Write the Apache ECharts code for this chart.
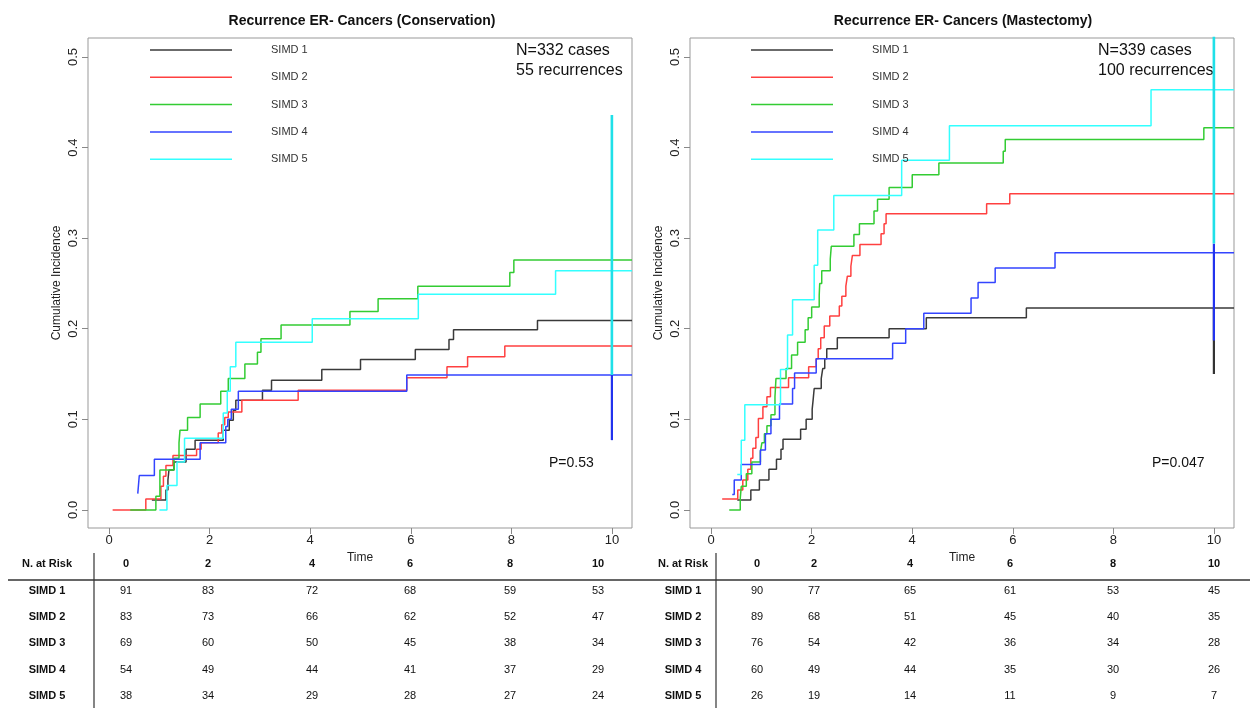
<!DOCTYPE html>
<html>
<head>
<meta charset="utf-8">
<title>Recurrence ER- Cancers</title>
<script src="https://cdn.jsdelivr.net/npm/echarts@6/dist/echarts.min.js"></script>
<style>
  html, body { margin: 0; padding: 0; background: #fff; }
  #chart { width: 1250px; height: 708px; }
</style>
</head>
<body>
<div id="chart"></div>
<script>
// step points [time, cumulative incidence] - Conservation
const cons1 = [[0.85,0.011],[1.13,0.022],[1.17,0.033],[1.19,0.044],[1.29,0.053],[1.53,0.067],[1.71,0.077],[2.27,0.088],[2.39,0.099],[2.47,0.11],[2.52,0.121],[3.05,0.132],[3.23,0.143],[4.23,0.155],[5.0,0.166],[6.09,0.177],[6.76,0.188],[6.85,0.199],[8.52,0.209],[10.4,0.209]]
const cons2 = [[0.07,0],[0.73,0.012],[1.03,0.026],[1.08,0.037],[1.13,0.049],[1.27,0.06],[1.74,0.067],[1.83,0.074],[2.17,0.085],[2.24,0.094],[2.3,0.102],[2.37,0.108],[2.64,0.121],[3.76,0.132],[5.92,0.146],[6.72,0.158],[7.13,0.169],[7.87,0.181],[10.4,0.181]]
const cons3 = [[0.42,0],[0.93,0.015],[1.01,0.044],[1.29,0.057],[1.39,0.074],[1.41,0.088],[1.56,0.102],[1.81,0.117],[2.22,0.131],[2.37,0.145],[2.7,0.161],[2.95,0.174],[3.02,0.189],[3.42,0.204],[4.79,0.219],[5.35,0.233],[6.14,0.247],[7.97,0.262],[8.05,0.276],[10.4,0.276]]
const cons4 = [[0.57,0.018],[0.6,0.038],[0.9,0.056],[1.81,0.074],[2.32,0.092],[2.36,0.1],[2.43,0.111],[2.57,0.131],[5.92,0.149],[10.4,0.149]]
const cons5 = [[1.0,0],[1.15,0.027],[1.35,0.053],[1.5,0.079],[2.27,0.107],[2.35,0.131],[2.41,0.158],[2.52,0.185],[4.04,0.211],[6.15,0.238],[8.88,0.264],[10.4,0.264]]

// step points - Mastectomy
const mast1 = [[0.52,0.011],[0.79,0.022],[0.96,0.033],[1.15,0.045],[1.3,0.056],[1.39,0.067],[1.43,0.078],[1.78,0.089],[1.89,0.1],[2.01,0.111],[2.03,0.122],[2.05,0.134],[2.19,0.145],[2.22,0.156],[2.26,0.167],[2.3,0.178],[2.51,0.19],[3.54,0.2],[4.28,0.212],[6.27,0.223],[10.4,0.223]]
const mast2 = [[0.22,0.012],[0.53,0.022],[0.63,0.033],[0.73,0.045],[0.79,0.057],[0.83,0.068],[0.89,0.08],[0.94,0.101],[1.03,0.114],[1.11,0.125],[1.18,0.135],[1.54,0.146],[1.94,0.158],[2.09,0.167],[2.13,0.178],[2.18,0.19],[2.25,0.203],[2.36,0.214],[2.55,0.225],[2.6,0.236],[2.68,0.247],[2.71,0.258],[2.78,0.269],[2.81,0.281],[2.96,0.293],[3.38,0.305],[3.44,0.316],[3.48,0.327],[5.48,0.338],[5.94,0.349],[10.4,0.349]]
const mast3 = [[0.36,0],[0.58,0.013],[0.6,0.026],[0.7,0.04],[0.81,0.053],[0.98,0.064],[1.01,0.074],[1.06,0.084],[1.11,0.093],[1.19,0.105],[1.27,0.125],[1.29,0.145],[1.49,0.156],[1.6,0.171],[1.72,0.185],[1.87,0.199],[1.93,0.212],[2.0,0.224],[2.15,0.237],[2.16,0.25],[2.2,0.264],[2.37,0.277],[2.39,0.291],[2.84,0.304],[2.95,0.316],[3.24,0.33],[3.31,0.343],[3.54,0.356],[4.0,0.37],[4.53,0.383],[5.81,0.396],[5.85,0.409],[9.8,0.422],[10.4,0.422]]
const mast4 = [[0.42,0.017],[0.46,0.033],[0.6,0.05],[0.98,0.066],[1.08,0.084],[1.19,0.1],[1.36,0.117],[1.62,0.134],[1.66,0.151],[2.09,0.167],[3.61,0.184],[3.87,0.2],[4.23,0.217],[5.17,0.234],[5.31,0.251],[5.65,0.267],[6.84,0.284],[10.4,0.284]]
const mast5 = [[0.52,0.039],[0.6,0.077],[0.67,0.116],[1.38,0.155],[1.52,0.193],[1.62,0.232],[2.05,0.27],[2.12,0.309],[2.44,0.347],[3.79,0.386],[4.74,0.424],[8.75,0.464],[10.4,0.464]]

// vertical bars at time 10: [group index, low, high]
const consBars = [[3, 0.077, 0.149], [4, 0.149, 0.436]]
const mastBars = [[0, 0.15, 0.223], [3, 0.187, 0.294], [4, 0.294, 0.6]]
const barTime = 10

// numbers at risk
const riskTimes = ['0', '2', '4', '6', '8', '10']
const consRisk = [[91,83,72,68,59,53],[83,73,66,62,52,47],[69,60,50,45,38,34],[54,49,44,41,37,29],[38,34,29,28,27,24]]
const mastRisk = [[90,77,65,61,53,45],[89,68,51,45,40,35],[76,54,42,36,34,28],[60,49,44,35,30,26],[26,19,14,11,9,7]]

const groups = ['SIMD 1', 'SIMD 2', 'SIMD 3', 'SIMD 4', 'SIMD 5']
const timeTicks = [0, 2, 4, 6, 8, 10]
const incTicks = [0, 0.1, 0.2, 0.3, 0.4, 0.5]

const FONT = '"Liberation Sans", Arial, sans-serif'
const colors = ['#3a3a3a', '#ff4040', '#33cc33', '#3344ff', '#33ffff']
const barColors = ['#333333', '#ff4040', '#33cc33', '#2233ee', '#1fe0e8']

const chart = echarts.init(document.getElementById('chart'))

function xAxisFor(gridIndex) {
  return {
    type: 'value', gridIndex: gridIndex, min: -0.42, max: 10.4,
    name: 'Time', nameLocation: 'middle', nameGap: 23,
    nameTextStyle: { fontSize: 12, color: '#222', fontFamily: FONT },
    axisLine: { show: false, onZero: false },
    axisTick: { show: true, length: 6, customValues: timeTicks, lineStyle: { color: '#888' } },
    axisLabel: { customValues: timeTicks, fontSize: 13, color: '#222', margin: 6, fontFamily: FONT },
    splitLine: { show: false }
  }
}

function yAxisFor(gridIndex) {
  return {
    type: 'value', gridIndex: gridIndex, min: -0.02, max: 0.521,
    name: 'Cumulative Incidence', nameLocation: 'middle', nameRotate: 90, nameGap: 25,
    nameTextStyle: { fontSize: 12, color: '#222', fontFamily: FONT },
    axisLine: { show: false, onZero: false },
    axisTick: { show: true, length: 6, customValues: incTicks, lineStyle: { color: '#888' } },
    axisLabel: {
      customValues: incTicks, rotate: 90, fontSize: 13, color: '#222', margin: 8, fontFamily: FONT,
      formatter: v => v.toFixed(1)
    },
    splitLine: { show: false }
  }
}

const series = []
function addPanel(curves, bars, axisIndex) {
  curves.forEach((data, i) => {
    series.push({
      name: groups[i], type: 'line', step: 'end', data: data,
      xAxisIndex: axisIndex, yAxisIndex: axisIndex,
      symbol: 'none', showSymbol: false, silent: true,
      lineStyle: { width: 1.5, color: colors[i] }, itemStyle: { color: colors[i] }
    })
  })
  bars.forEach(b => {
    series.push({
      name: groups[b[0]] + ' bar', type: 'line', data: [[barTime, b[1]], [barTime, b[2]]],
      xAxisIndex: axisIndex, yAxisIndex: axisIndex,
      symbol: 'none', showSymbol: false, silent: true,
      lineStyle: { width: b[0] === 4 ? 2.6 : 2.2, color: barColors[b[0]] }
    })
  })
}
addPanel([cons1, cons2, cons3, cons4, cons5], consBars, 0)
addPanel([mast1, mast2, mast3, mast4, mast5], mastBars, 1)

function txt(x, y, s, size, bold, align) {
  return {
    type: 'text', x: x, y: y, silent: true,
    style: {
      text: s, fontSize: size, fontFamily: FONT, fontWeight: bold ? 'bold' : 'normal', fill: '#111',
      align: align || 'center', verticalAlign: 'middle',
      textAlign: align || 'center', textVerticalAlign: 'middle'
    }
  }
}

// risk table layout
const rowY = [564, 591, 617, 643, 669.5, 696]
const graphics = []
function addTable(labelX, cols, risk, sepX) {
  graphics.push(txt(labelX, rowY[0], 'N. at Risk', 11, true))
  riskTimes.forEach((t, i) => graphics.push(txt(cols[i], rowY[0], t, 11, true)))
  groups.forEach((g, r) => {
    graphics.push(txt(labelX, rowY[r + 1], g, 11, true))
    risk[r].forEach((n, i) => graphics.push(txt(cols[i], rowY[r + 1], String(n), 11, false)))
  })
  graphics.push({ type: 'line', silent: true, shape: { x1: sepX, y1: 553, x2: sepX, y2: 708 }, style: { stroke: '#333', lineWidth: 1.2 } })
}
addTable(47, [126, 208, 312, 410, 510, 598], consRisk, 94)
addTable(683, [757, 814, 910, 1010, 1113, 1214], mastRisk, 716)
graphics.push({ type: 'line', silent: true, shape: { x1: 8, y1: 580, x2: 1250, y2: 580 }, style: { stroke: '#333', lineWidth: 1.3 } })

// titles and annotations
graphics.push(txt(362, 21, 'Recurrence ER- Cancers (Conservation)', 14, true))
graphics.push(txt(963, 21, 'Recurrence ER- Cancers (Mastectomy)', 14, true))
graphics.push(txt(516, 51, 'N=332 cases', 16, false, 'left'))
graphics.push(txt(516, 71, '55 recurrences', 16, false, 'left'))
graphics.push(txt(1098, 51, 'N=339 cases', 16, false, 'left'))
graphics.push(txt(1098, 71, '100 recurrences', 16, false, 'left'))
graphics.push(txt(549, 463, 'P=0.53', 14, false, 'left'))
graphics.push(txt(1152, 463, 'P=0.047', 14, false, 'left'))

function legendFor(left) {
  return {
    data: groups, left: left, top: 43, orient: 'vertical',
    icon: 'rect', itemWidth: 82, itemHeight: 1.5, itemGap: 13.3, padding: 0, selectedMode: false,
    textStyle: { fontSize: 11, lineHeight: 14, fontFamily: FONT, color: '#333', padding: [0, 0, 0, 34] }
  }
}

const option = {
  animation: false,
  backgroundColor: '#fff',
  grid: [
    { left: 88, top: 38, width: 544, height: 490, show: true, borderColor: '#999', borderWidth: 1 },
    { left: 690, top: 38, width: 544, height: 490, show: true, borderColor: '#999', borderWidth: 1 }
  ],
  xAxis: [xAxisFor(0), xAxisFor(1)],
  yAxis: [yAxisFor(0), yAxisFor(1)],
  legend: [legendFor(150), legendFor(751)],
  series: series,
  graphic: graphics
}
chart.setOption(option)
</script>
</body>
</html>
